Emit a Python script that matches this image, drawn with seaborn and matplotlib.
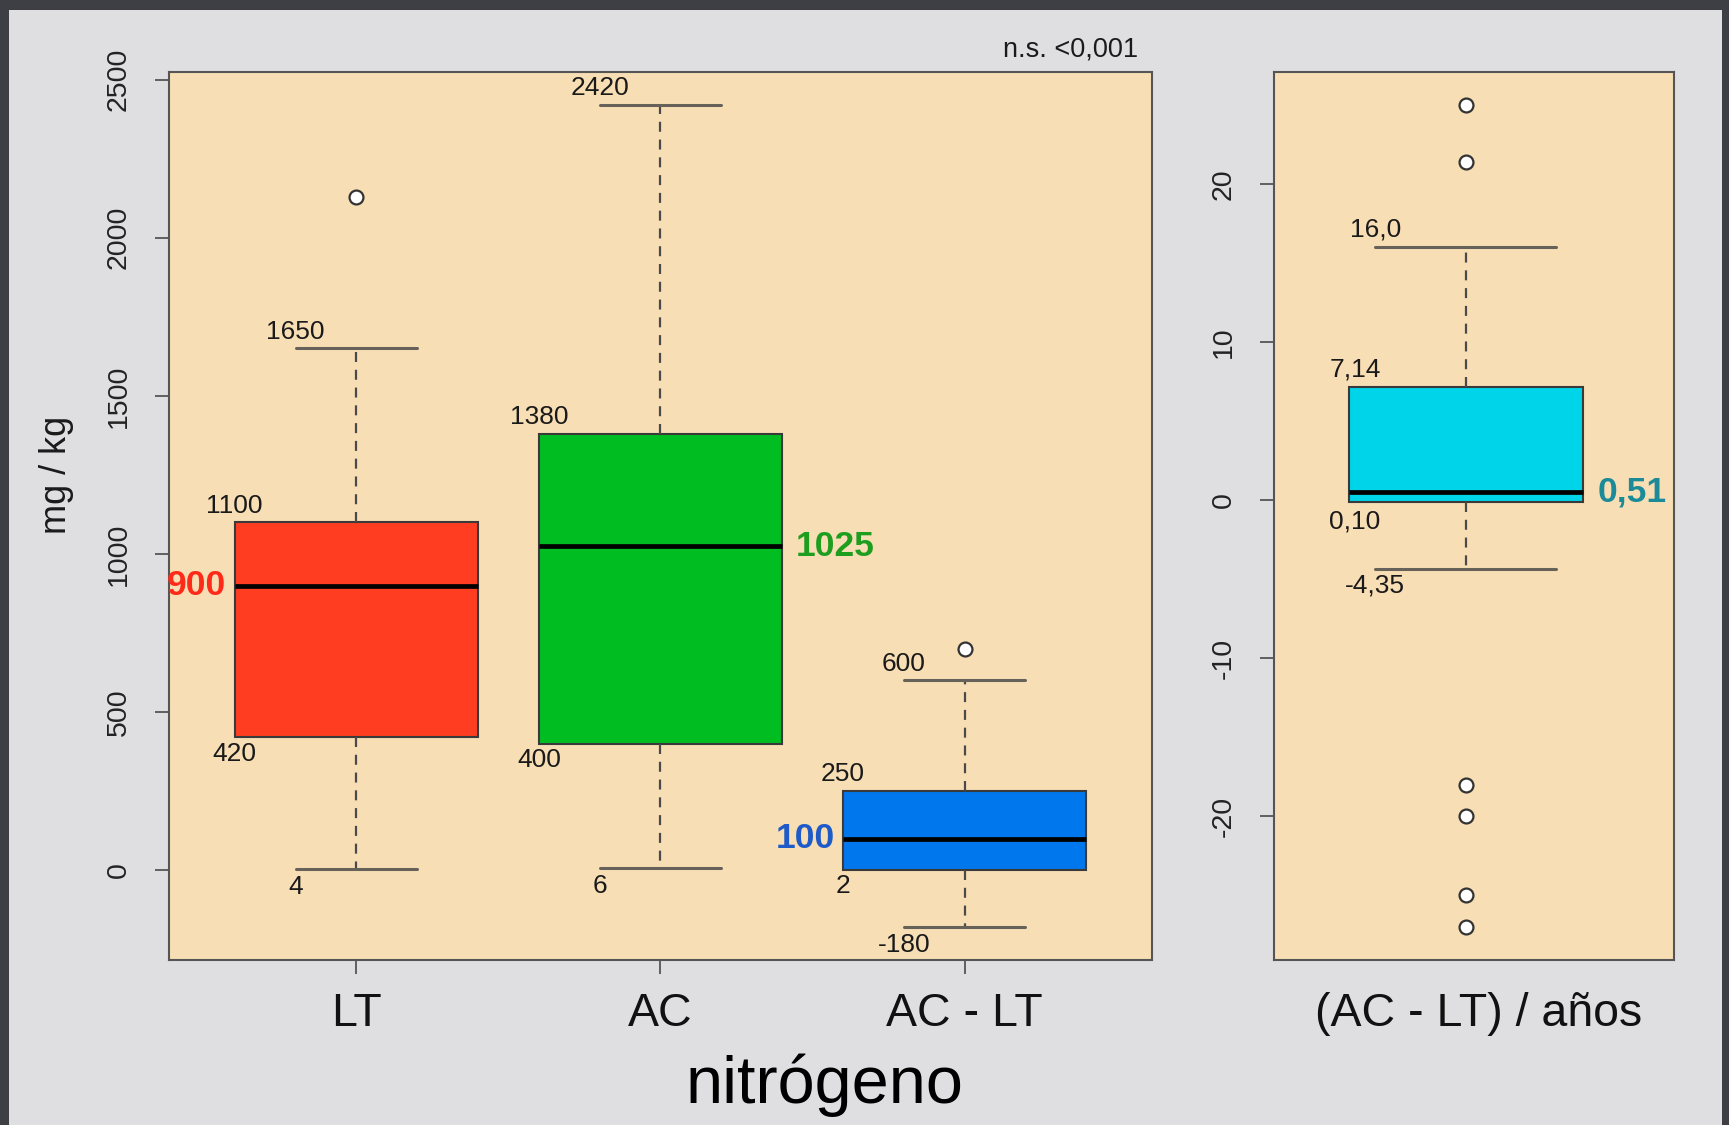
import numpy as np
import pandas as pd
import matplotlib
matplotlib.use("Agg")
import matplotlib.pyplot as plt
from matplotlib.patches import Rectangle
from matplotlib.transforms import ScaledTranslation
import seaborn as sns

# ---------------- data ----------------
groups = ["LT", "AC", "AC - LT"]
whislo = [4, 6, -180]
q1 = [420, 400, 2]
med = [900, 1025, 100]
q3 = [1100, 1380, 250]
whishi = [1650, 2420, 600]
out_group = ["LT", "AC - LT"]
out_value = [2130, 700]

box_colors = ["#FF3D20", "#00BE22", "#0077EC"]
med_label_colors = ["#FF2A1A", "#1E9E1E", "#1F5BC8"]
med_label_side = ["left", "right", "left"]

rate_group = ["(AC - LT) / años"]
rate_stats = [-4.35, -0.10, 0.51, 7.14, 16.0]          # whislo, q1, med, q3, whishi
rate_labels = ["-4,35", "0,10", "0,51", "7,14", "16,0"]
rate_outliers = [25.0, 21.4, -18.0, -20.0, -25.0, -27.0]
rate_color = "#00D4E8"

left_yticks = [0, 500, 1000, 1500, 2000, 2500]
right_yticks = [-20, -10, 0, 10, 20]

# ---------------- style ----------------
sns.set_theme(style="ticks")
plt.rcParams["font.family"] = ["Liberation Sans", "DejaVu Sans"]
plt.rcParams["axes.unicode_minus"] = False

PANEL_BG = "#F8DEB4"
FIG_BG = "#dfdfe2"
BORDER = "#3d3f45"
LINE = "#3a3a3a"
SPINE = "#555555"
TXT = "#1a1a1a"

W, H = 1729, 1125
fig = plt.figure(figsize=(W / 100, H / 100), dpi=100)
fig.patch.set_facecolor(BORDER)
fig.patches.append(Rectangle((9 / W, 0), (1722 - 9) / W, 1 - 10 / H,
                             transform=fig.transFigure, facecolor=FIG_BG,
                             edgecolor="none", zorder=-10))

bottom = 1 - 960 / H
height = (960 - 72) / H
ax1 = fig.add_axes([169 / W, bottom, (1152 - 169) / W, height])
ax2 = fig.add_axes([1274 / W, bottom, (1674 - 1274) / W, height])

common_box = dict(
    whis=(0, 100), showfliers=False, saturation=1, linecolor=LINE, linewidth=1.5,
    whiskerprops=dict(linestyle=(0, (4.5, 3.5)), color="#4a4a4a", linewidth=1.6),
    capprops=dict(color="#66625a", linewidth=2.2),
    medianprops=dict(color="black", linewidth=3.4),
)

# ---------------- left panel ----------------
df = pd.DataFrame({
    "grupo": np.repeat(groups, 5),
    "valor": np.column_stack([whislo, q1, med, q3, whishi]).ravel(),
})
sns.boxplot(data=df, x="grupo", y="valor", hue="grupo", order=groups, hue_order=groups,
            palette=box_colors, width=0.8, legend=False, ax=ax1, **common_box)
sns.stripplot(x=out_group, y=out_value, order=groups, jitter=False, color="white",
              edgecolor="#333333", linewidth=1.6, size=10, ax=ax1, zorder=5)

ann = dict(textcoords="offset points", ha="center", va="center", fontsize=19, color=TXT)
for i in range(len(groups)):
    ax1.annotate(f"{whishi[i]}", xy=(i - 0.2, whishi[i]), xytext=(0, 12), **ann)
    ax1.annotate(f"{q3[i]}", xy=(i - 0.4, q3[i]), xytext=(0, 12), **ann)
    ax1.annotate(f"{q1[i]}", xy=(i - 0.4, q1[i]), xytext=(0, -12), **ann)
    ax1.annotate(f"{whislo[i]}", xy=(i - 0.2, whislo[i]), xytext=(0, -13), **ann)
    if med_label_side[i] == "left":
        ax1.annotate(f"{med[i]}", xy=(i - 0.4, med[i]), xytext=(-6, 0),
                     textcoords="offset points", ha="right", va="center",
                     fontsize=25.5, fontweight="bold", color=med_label_colors[i])
    else:
        ax1.annotate(f"{med[i]}", xy=(i + 0.4, med[i]), xytext=(10, 0),
                     textcoords="offset points", ha="left", va="center",
                     fontsize=25.5, fontweight="bold", color=med_label_colors[i])

ax1.set_xlim(-0.616, 2.616)
ax1.set_ylim(-284, 2524)
ax1.set_yticks(left_yticks)
ax1.set_xticks(range(len(groups)))
ax1.set_xticklabels(groups)
ax1.set_ylabel("mg / kg", fontsize=26, color=TXT)
ax1.yaxis.set_label_coords(-0.114, 0.546)
ax1.yaxis.label.set_va("center")
ax1.set_xlabel("nitrógeno", fontsize=48, color="black")
ax1.xaxis.set_label_coords(0.667, -0.141)
ax1.xaxis.label.set_va("center")
ax1.text(0.986, 1.025, "n.s. <0,001", transform=ax1.transAxes, ha="right",
         va="center", fontsize=19.5, color=TXT)

# ---------------- right panel ----------------
df2 = pd.DataFrame({"grupo": np.repeat(rate_group, 5), "valor": rate_stats})
sns.boxplot(data=df2, x="grupo", y="valor", color=rate_color, width=0.8,
            capwidths=0.62, ax=ax2, **common_box)
sns.stripplot(x=rate_group * len(rate_outliers), y=rate_outliers, jitter=False,
              color="white", edgecolor="#333333", linewidth=1.6, size=10, ax=ax2, zorder=5)

r_lo, r_q1, r_med, r_q3, r_hi = rate_stats
ax2.annotate(rate_labels[4], xy=(-0.31, r_hi), xytext=(0, 13), **ann)
ax2.annotate(rate_labels[3], xy=(-0.38, r_q3), xytext=(0, 13), **ann)
ax2.annotate(rate_labels[1], xy=(-0.38, r_q1), xytext=(0, -14), **ann)
ax2.annotate(rate_labels[0], xy=(-0.31, r_lo), xytext=(0, -12), **ann)
ax2.annotate(rate_labels[2], xy=(0.4, r_med), xytext=(11, 0), textcoords="offset points",
             ha="left", va="center", fontsize=25.5, fontweight="bold", color="#1B8A99")

ax2.set_xlim(-0.657, 0.713)
ax2.set_ylim(-29.08, 27.08)
ax2.set_yticks(right_yticks)
ax2.set_xlabel("")
ax2.set_ylabel("")

# ---------------- axes cosmetics ----------------
for ax in (ax1, ax2):
    ax.set_facecolor(PANEL_BG)
    for s in ax.spines.values():
        s.set_color(SPINE)
        s.set_linewidth(1.5)
    ax.tick_params(axis="y", direction="out", length=10, width=1.3, color=SPINE,
                   labelsize=20.5, labelcolor="#222222", labelrotation=90, pad=17)
    ax.tick_params(axis="x", direction="out", length=10, width=1.3, color=SPINE,
                   labelsize=33.5, labelcolor="#111111", pad=13)
    for lab in ax.get_yticklabels():
        lab.set_va("center")
ax2.tick_params(axis="x", length=0, pad=23)
for lab in ax2.get_xticklabels():
    lab.set_transform(lab.get_transform() + ScaledTranslation(9 / 72, 0, fig.dpi_scale_trans))

fig.savefig("out.png", dpi=100, facecolor=fig.get_facecolor())
